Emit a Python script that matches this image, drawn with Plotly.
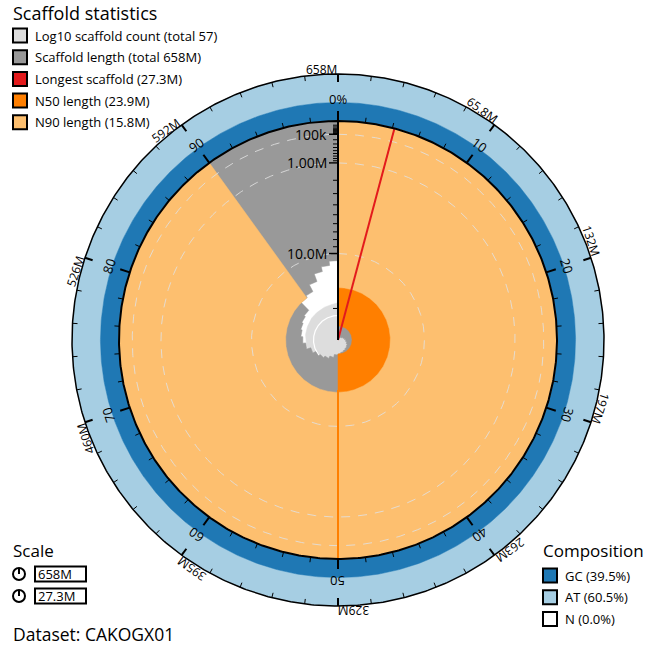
import numpy as np
import plotly.graph_objects as go

# ---------------------------------------------------------------- data
# scaffold lengths in Mb, longest first
scaffold_lengths_mb = [
    27.3, 26.9, 26.6, 26.3, 26.0, 25.7, 25.4, 25.1, 24.8, 24.6,
    24.4, 24.2, 23.9, 23.7, 23.0, 22.4, 21.9, 21.4, 20.7, 19.8,
    19.2, 18.8, 18.5, 18.2, 17.9, 15.8, 15.4, 14.0, 12.6, 11.8,
    11.1,
    0.062, 0.055, 0.048, 0.043, 0.039, 0.035, 0.032, 0.029, 0.027,
    0.025, 0.023, 0.021, 0.019, 0.018, 0.017, 0.016, 0.015, 0.014,
    0.013, 0.012, 0.011, 0.010, 0.009, 0.008, 0.007, 0.006,
]
assembly_span_mb = 658.0
span_label = "658M"
longest_mb = 27.3
n50_mb = 23.9
n90_mb = 15.8
n50_fraction = 0.5
n90_fraction = 0.9
scaffold_count = 57

gc_percent = 39.5
at_percent = 60.5
n_percent = 0.0

span_tick_labels = ["658M", "65.8M", "132M", "197M", "263M",
                    "329M", "395M", "460M", "526M", "592M"]
percent_tick_labels = ["0%", "10", "20", "30", "40", "50", "60", "70", "80", "90"]
length_axis_values_mb = [0.1, 1.0, 10.0]
length_axis_labels = ["100k", "1.00M", "10.0M"]
length_axis_minor_mb = ([0.01 * k for k in range(1, 10)] + [0.1 * k for k in range(2, 10)]
                        + [1.0 * k for k in range(2, 10)] + [20.0])
scale_box_labels = ["658M", "27.3M"]
dataset_name = "CAKOGX01"

# ---------------------------------------------------------------- geometry
W, H = 647, 646
CX, CY = 338, 340          # pixel position of the plot centre
R = 219.0                  # radius of the length plot
RING = 47.0                # width of the composition ring
R_OUT = R + RING
COUNT_DECADE = 24.5        # radius per log10 step of scaffold count

FONT = "Open Sans, Noto Sans, sans-serif"
C_COUNT = "#dddddd"
C_LEN = "#999999"
C_LONG = "#e31a1c"
C_N50 = "#ff7f00"
C_N90 = "#fdbf6f"
C_GC = "#1f78b4"
C_AT = "#a6cee3"

# approximate advance widths (em) for the ring label glyphs
GLYPH_EM = {".": 0.27, "M": 0.89, "%": 0.82}


def text_width(s, size):
    return sum(GLYPH_EM.get(c, 0.57) for c in s) * size


def polar(r, deg):
    a = np.radians(deg)
    return r * np.sin(a), r * np.cos(a)


def arc(r, a0, a1, step=0.5):
    n = max(2, int(abs(a1 - a0) / step) + 2)
    ang = np.linspace(a0, a1, n)
    return polar(np.full(n, r, dtype=float), ang)


def sector(r0, r1, a0, a1):
    xo, yo = arc(r1, a0, a1)
    xi, yi = arc(r0, a1, a0)
    return np.concatenate([xo, xi, xo[:1]]), np.concatenate([yo, yi, yo[:1]])


def depth(length_mb):
    return R * np.sqrt(length_mb / longest_mb)


def px(x, y):
    """pixel position -> data coordinates"""
    return x - CX, CY - y


fig = go.Figure()


def add_fill(x, y, color):
    fig.add_trace(go.Scatter(x=x, y=y, mode="lines", fill="toself", fillcolor=color,
                             line=dict(color=color, width=0.5), hoverinfo="skip",
                             showlegend=False))


def add_line(x, y, color, width, dash=None):
    fig.add_trace(go.Scatter(x=x, y=y, mode="lines", hoverinfo="skip", showlegend=False,
                             line=dict(color=color, width=width, dash=dash)))


lengths = np.array(scaffold_lengths_mb)
cum = np.cumsum(lengths)
total = cum[-1]
a_end = cum / total * 360.0
a_start = np.concatenate([[0.0], a_end[:-1]])
r_inner = R - depth(lengths)

# ---------------------------------------------------------------- composition ring
gc_r = R + RING * gc_percent / 100.0
at_r = gc_r + RING * at_percent / 100.0
add_fill(*sector(gc_r, at_r, 0, 360), C_AT)
add_fill(*sector(R, gc_r, 0, 360), C_GC)

# ---------------------------------------------------------------- cumulative scaffold count (log10)
cx_l, cy_l = [0.0], [0.0]
for i in range(len(lengths)):
    rc = COUNT_DECADE * np.log10(i + 1)
    x, y = arc(rc, a_start[i], a_end[i], step=0.25)
    cx_l.extend(x)
    cy_l.extend(y)
cx_l.append(0.0)
cy_l.append(0.0)
add_fill(np.array(cx_l), np.array(cy_l), C_COUNT)
for dec in range(1, int(np.ceil(np.log10(scaffold_count)))):
    add_line(*arc(COUNT_DECADE * dec, 0, 360), "white", 1.2)

# ---------------------------------------------------------------- scaffold length distribution
ox, oy = arc(R, 0, 360)
gx, gy = list(ox), list(oy)
for i in range(len(lengths) - 1, -1, -1):
    x, y = arc(r_inner[i], a_end[i], a_start[i], step=0.25)
    gx.extend(x)
    gy.extend(y)
gx.append(ox[0])
gy.append(oy[0])
add_fill(np.array(gx), np.array(gy), C_LEN)

# ---------------------------------------------------------------- N50 / N90 sectors
add_fill(*sector(R - depth(n50_mb), R, 0, 360 * n50_fraction), C_N50)
add_fill(*sector(R - depth(n90_mb), R, 0, 360 * n90_fraction), C_N90)

# dashed grid circles at the labelled lengths
for v in length_axis_values_mb:
    add_line(*arc(R - depth(v), 0, 360), "rgba(225,225,225,0.85)", 1, dash="9px,8px")

# longest scaffold and N50 markers
lx, ly = polar(np.array([0.0, R]), np.array([1, 1]) * longest_mb / total * 360)
add_line(lx, ly, C_LONG, 2)
nx, ny = polar(np.array([R - depth(n50_mb) + 36, R]), np.array([1, 1]) * 360 * n50_fraction)
add_line(nx, ny, C_N50, 2)

# circle outlines
add_line(*arc(R, 0, 360), "black", 2)
add_line(*arc(R_OUT, 0, 360), "black", 1.5)

shapes = []
annotations = []


def seg(x0, y0, x1, y1, width=1, color="black"):
    shapes.append(dict(type="line", xref="x", yref="y", x0=x0, y0=y0, x1=x1, y1=y1,
                       line=dict(color=color, width=width)))


def label(x, y, text, size, xanchor="left", angle=0):
    annotations.append(dict(x=x, y=y, text=text, showarrow=False, textangle=angle,
                            xanchor=xanchor, yanchor="middle", borderpad=0,
                            font=dict(family=FONT, size=size, color="black")))


# ---------------------------------------------------------------- radial length axis
seg(0, 0, 0, R, width=2)
for v in length_axis_minor_mb:
    yv = R - depth(v)
    seg(0, yv, -5, yv, width=1)
for v, lab in zip(length_axis_values_mb, length_axis_labels):
    yv = R - depth(v)
    seg(0, yv, -9, yv, width=1.5)
    label(-10, yv, lab, 14, xanchor="right")

# ---------------------------------------------------------------- ring ticks and labels
for k in range(50):
    ang = k * 7.2
    major = k % 5 == 0
    ri = 10 if major else 5
    ro = 8 if major else 5
    w = 2 if major else 1
    x0, y0 = polar(R, ang)
    x1, y1 = polar(R + ri, ang)
    seg(x0, y0, x1, y1, width=w)
    x0, y0 = polar(R_OUT, ang)
    x1, y1 = polar(R_OUT - ro, ang)
    seg(x0, y0, x1, y1, width=w)

for k in range(10):
    ang = k * 36.0
    # percentage labels centred on their tick
    x, y = polar(241.0, ang)
    label(x, y, percent_tick_labels[k], 13, xanchor="center", angle=ang)
    # span labels end at their tick
    half = text_width(span_tick_labels[k], 12) / 2 + 0.5
    x, y = polar(271.0, ang)
    t = np.radians(ang)
    label(x - half * np.cos(t), y + half * np.sin(t), span_tick_labels[k], 12,
          xanchor="center", angle=ang)

# ---------------------------------------------------------------- scaffold statistics legend
label(*px(12, 13), "Scaffold statistics", 18)
stats_items = [
    (f"Log10 scaffold count (total {scaffold_count})", C_COUNT),
    (f"Scaffold length (total {span_label})", C_LEN),
    (f"Longest scaffold ({longest_mb:.1f}M)", C_LONG),
    (f"N50 length ({n50_mb:.1f}M)", C_N50),
    (f"N90 length ({n90_mb:.1f}M)", C_N90),
]
for i, (lab, col) in enumerate(stats_items):
    yc = 35.5 + i * 21.7
    x0, y0 = px(13, yc - 7)
    x1, y1 = px(27, yc + 7)
    shapes.append(dict(type="rect", xref="x", yref="y", x0=x0, y0=y0, x1=x1, y1=y1,
                       fillcolor=col, line=dict(color="black", width=2)))
    label(*px(34, yc), lab, 13)

# ---------------------------------------------------------------- scale legend
label(*px(12, 550), "Scale", 17)
for i, lab in enumerate(scale_box_labels):
    yc = 574 + i * 22
    x0, y0 = px(13, yc - 6)
    x1, y1 = px(25, yc + 6)
    shapes.append(dict(type="circle", xref="x", yref="y", x0=x0, y0=y0, x1=x1, y1=y1,
                       line=dict(color="black", width=2)))
    seg(*px(19, yc), *px(19, yc - 6), width=2)
    x0, y0 = px(35, yc - 7.5)
    x1, y1 = px(86, yc + 7.5)
    shapes.append(dict(type="rect", xref="x", yref="y", x0=x0, y0=y0, x1=x1, y1=y1,
                       fillcolor="white", line=dict(color="black", width=2)))
    label(*px(37, yc), lab, 13)

label(*px(12, 634), f"Dataset: {dataset_name}", 17.5)

# ---------------------------------------------------------------- composition legend
label(*px(542, 550), "Composition", 17)
comp_items = [(f"GC ({gc_percent:.1f}%)", C_GC), (f"AT ({at_percent:.1f}%)", C_AT),
              (f"N ({n_percent:.1f}%)", "white")]
for i, (lab, col) in enumerate(comp_items):
    yc = 575.5 + i * 21.7
    x0, y0 = px(543, yc - 7)
    x1, y1 = px(557, yc + 7)
    shapes.append(dict(type="rect", xref="x", yref="y", x0=x0, y0=y0, x1=x1, y1=y1,
                       fillcolor=col, line=dict(color="black", width=2)))
    label(*px(564, yc), lab, 13)

fig.update_layout(
    width=W, height=H, margin=dict(l=0, r=0, t=0, b=0),
    paper_bgcolor="white", plot_bgcolor="white",
    xaxis=dict(range=[-CX, W - CX], visible=False, fixedrange=True),
    yaxis=dict(range=[-(H - CY), CY], visible=False, fixedrange=True),
    shapes=shapes, annotations=annotations, showlegend=False,
)

fig.write_html("out.html")
